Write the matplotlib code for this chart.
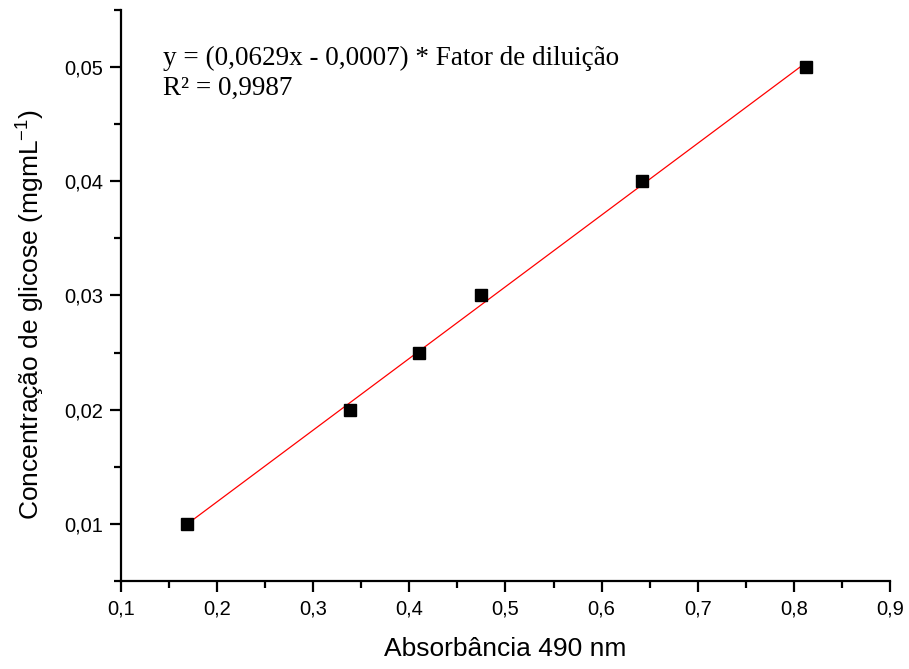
import numpy as np
import matplotlib
matplotlib.use("Agg")
import matplotlib.pyplot as plt
from matplotlib.ticker import MultipleLocator, FuncFormatter

absorbancia = [0.169, 0.338, 0.410, 0.475, 0.642, 0.813]
concentracao = [0.010, 0.020, 0.025, 0.030, 0.040, 0.050]

plt.rcParams['font.family'] = ['Liberation Sans', 'DejaVu Sans']
plt.rcParams['mathtext.fontset'] = 'custom'
plt.rcParams['mathtext.rm'] = 'Liberation Sans'
plt.rcParams['mathtext.it'] = 'Liberation Sans:italic'
plt.rcParams['mathtext.bf'] = 'Liberation Sans:bold'

fig = plt.figure(figsize=(9.09, 6.69), dpi=100)
ax = fig.add_axes([0.1331, 0.1316, 0.846, 0.8535])

# ajuste linear
a, b = np.polyfit(absorbancia, concentracao, 1)
xs = np.array([min(absorbancia), max(absorbancia)])
ax.plot(xs, a * xs + b, color='red', lw=0.9, zorder=2)
ax.plot(absorbancia, concentracao, 's', color='black', ms=8.8, zorder=3)

ax.set_xlim(0.1, 0.9)
ax.set_ylim(0.005, 0.055)
ax.xaxis.set_major_locator(MultipleLocator(0.1))
ax.xaxis.set_minor_locator(MultipleLocator(0.05))
ax.yaxis.set_major_locator(MultipleLocator(0.01))
ax.yaxis.set_minor_locator(MultipleLocator(0.005))

ax.xaxis.set_major_formatter(FuncFormatter(lambda v, p: f"{v:.1f}".replace('.', ',')))
ax.yaxis.set_major_formatter(FuncFormatter(lambda v, p: f"{v:.2f}".replace('.', ',')))

for s in ['top', 'right']:
    ax.spines[s].set_visible(False)
for s in ['left', 'bottom']:
    ax.spines[s].set_linewidth(1.6)

ax.tick_params(which='major', direction='out', length=8, width=1.6, labelsize=14.5, pad=5)
ax.tick_params(which='minor', direction='out', length=5, width=1.6)

ax.set_xlabel('Absorbância 490 nm', fontsize=19, labelpad=14)
ax.set_ylabel('Concentração de glicose (mgmL$^{-1}$)', fontsize=19, labelpad=12, y=0.466)

ax.text(0.1437, 0.0519, 'y = (0,0629x - 0,0007) * Fator de diluição\nR² = 0,9987',
        fontsize=19.5, family=['Liberation Serif', 'DejaVu Serif'], va='top', linespacing=1.3)

fig.savefig('out.png', dpi=100)
